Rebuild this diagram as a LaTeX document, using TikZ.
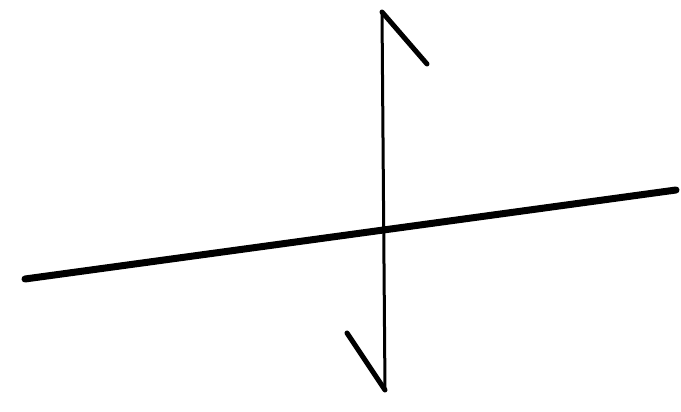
\documentclass[tikz,border=0pt]{standalone}
\begin{document}
\begin{tikzpicture}[x=1pt,y=-1pt,
  axisline/.style={line width=7pt,line cap=round},
  stemline/.style={line width=3pt},
  hookline/.style={line width=5pt,line cap=round}]
\useasboundingbox (0,0) rectangle (681,412);
\coordinate (L) at (25,279);
\coordinate (R) at (676,190);
\coordinate (T) at (382,12);
\coordinate (B) at (385,390);
\coordinate (TH) at (427,64);
\coordinate (BH) at (347,333);
\draw[axisline] (L) -- (R);
\draw[stemline] (T) -- (B);
\draw[hookline] (T) -- (TH);
\draw[hookline] (BH) -- (B);
\end{tikzpicture}
\end{document}
